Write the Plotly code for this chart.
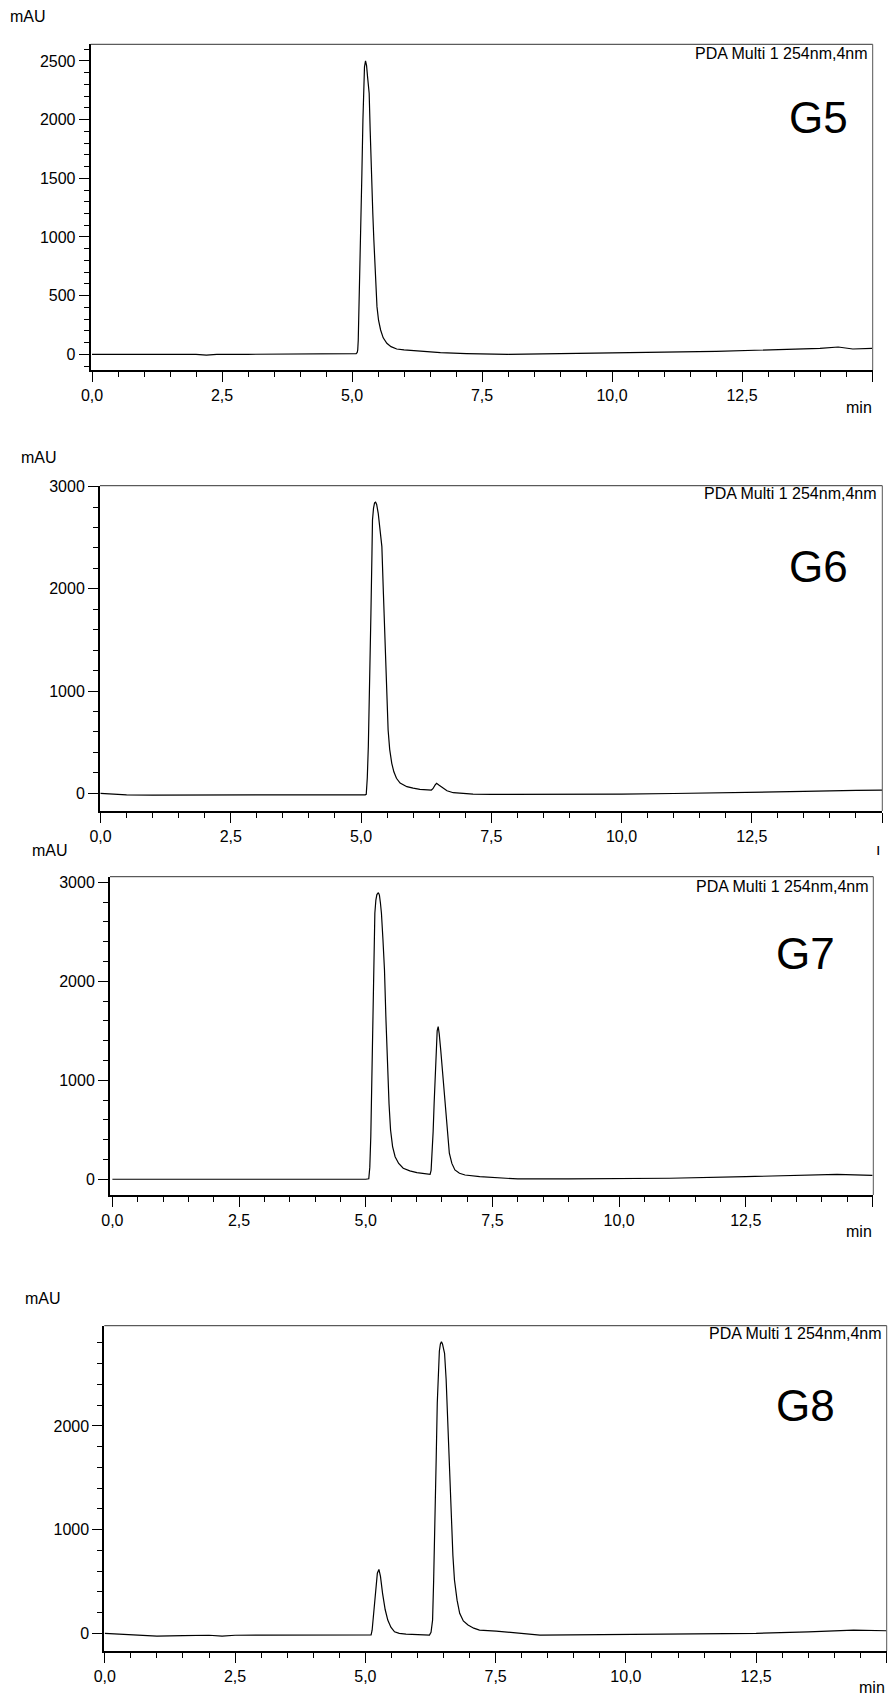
import plotly.graph_objects as go

W, H = 889, 1698

# ---------------- data ----------------
g5_t = [0, 0.5, 1.0, 1.5, 2.0, 2.2, 2.4, 3.0, 4.0, 5.0, 5.08, 5.10, 5.11, 5.12, 5.13, 5.14,
        5.15, 5.17, 5.19, 5.21, 5.22, 5.24, 5.26, 5.28, 5.30, 5.33, 5.35, 5.37, 5.40, 5.42,
        5.45, 5.48, 5.51, 5.55, 5.60, 5.67, 5.75, 5.86, 6.0, 6.5, 6.7, 7.2, 7.5, 8.0, 9.0,
        10.0, 11.0, 12.0, 12.5, 13.0, 13.5, 14.0, 14.35, 14.63, 15.0]
g5_v = [0, 0, 0, 0, 0, -8, 0, 0, 0, 0, 5, 15, 37, 120, 300, 490,
        690, 1110, 1543, 2000, 2253, 2450, 2500, 2460, 2360, 2225, 1900, 1543, 1200, 974,
        660, 406, 290, 207, 140, 94, 65, 45, 37, 20, 14, 6, 2, 0, 5,
        14, 18, 25, 31, 35, 42, 50, 62, 45, 51]

g6_t = [0, 0.2, 0.5, 1.0, 2.0, 2.25, 2.5, 3.0, 4.0, 5.0, 5.08, 5.10, 5.12, 5.14, 5.17,
        5.19, 5.21, 5.22, 5.24, 5.26, 5.28, 5.30, 5.33, 5.36, 5.40, 5.43, 5.46, 5.49,
        5.52, 5.55, 5.59, 5.63, 5.68, 5.75, 5.88, 6.0, 6.13, 6.35, 6.38, 6.42, 6.45,
        6.50, 6.57, 6.65, 6.77, 7.15, 7.5, 8.5, 10.0, 11.0, 12.5, 13.5, 14.5, 15.0]
g6_v = [0, -5, -15, -17, -17, -22, -17, -17, -17, -17, -15, -10, 150, 456, 1100,
        1761, 2350, 2674, 2790, 2840, 2847, 2825, 2739, 2600, 2413, 1950, 1434, 1000,
        619, 430, 293, 210, 147, 100, 65, 50, 39, 32, 45, 80, 98,
        78, 49, 25, 6, -7, -10, -10, -7, -2, 6, 18, 28, 32]

g7_t = [0, 1.0, 2.0, 2.25, 2.5, 3.0, 4.0, 5.0, 5.06, 5.08, 5.10, 5.12, 5.14, 5.16, 5.18,
        5.20, 5.22, 5.25, 5.27, 5.29, 5.31, 5.34, 5.37, 5.40, 5.43, 5.46, 5.49, 5.53,
        5.58, 5.65, 5.74, 5.87, 6.01, 6.15, 6.27, 6.29, 6.30, 6.33, 6.35, 6.37, 6.39,
        6.41, 6.43, 6.45, 6.48, 6.52, 6.56, 6.60, 6.65, 6.70, 6.76, 6.85, 6.96, 7.25,
        7.5, 8.0, 9.0, 10.0, 11.0, 12.5, 13.5, 14.3, 15.0]
g7_v = [0, 0, 0, -5, 0, 0, 0, 0, 5, 120, 431, 1080, 1778, 2300, 2687,
        2820, 2875, 2895, 2870, 2790, 2687, 2420, 2114, 1600, 1104, 760, 498, 330,
        228, 160, 111, 85, 67, 57, 50, 90, 162, 480, 768, 1080, 1374,
        1500, 1542, 1470, 1306, 1040, 768, 500, 263, 160, 94, 60, 43, 26,
        20, 3, 3, 5, 10, 26, 38, 50, 40]

g8_t = [0, 0.5, 1.0, 1.5, 2.0, 2.25, 2.5, 3.0, 4.0, 5.0, 5.11, 5.13, 5.15, 5.17, 5.20,
        5.23, 5.26, 5.29, 5.33, 5.38, 5.43, 5.49, 5.56, 5.65, 5.78, 6.0, 6.23, 6.26,
        6.29, 6.31, 6.34, 6.36, 6.38, 6.40, 6.42, 6.44, 6.46, 6.48, 6.50, 6.52, 6.55,
        6.58, 6.61, 6.65, 6.68, 6.71, 6.76, 6.81, 6.88, 6.97, 7.08, 7.19, 7.51, 8.35,
        10.0, 11.0, 12.5, 13.5, 14.37, 15.0]
g8_v = [0, -16, -26, -22, -18, -26, -18, -16, -16, -16, -14, 30, 150, 289, 450,
        580, 617, 550, 386, 230, 128, 60, 15, 0, -7, -14, -16, 10,
        128, 500, 1093, 1700, 2218, 2550, 2720, 2790, 2812, 2790, 2750, 2700, 2450,
        2057, 1600, 1093, 750, 514, 320, 193, 120, 80, 50, 32, 22, -16,
        -10, -6, 0, 15, 32, 25]

x_tickvals = [0, 2.5, 5.0, 7.5, 10.0, 12.5, 15.0]
x_ticktext = ["0,0", "2,5", "5,0", "7,5", "10,0", "12,5", ""]

panels = [
    dict(name="G5", t=g5_t, v=g5_v),
    dict(name="G6", t=g6_t, v=g6_v),
    dict(name="G7", t=g7_t, v=g7_v),
    dict(name="G8", t=g8_t, v=g8_v),
]

# ---------------- layout geometry (pixels) ----------------
geo = [
    dict(l=90.7, r=872.7, t=44.3, b=370, xr=[-0.025, 15.013], yr=[-134, 2642], ymaj=500, ymin=100,
         mau=(28.5, 17), mn=(859, 408), pda=(870, 53), lab=(818, 117)),
    dict(l=100, r=882.3, t=485.7, b=811, xr=[-0.01, 15.005], yr=[-173, 3009], ymaj=1000, ymin=200,
         mau=(38.5, 458), mn=None, pda=(879.3, 493.3), lab=(818.7, 566.7)),
    dict(l=110, r=873.3, t=876.7, b=1195, xr=[-0.047, 15.017], yr=[-159, 3056], ymaj=1000, ymin=200,
         mau=(49.5, 850), mn=(859, 1231), pda=(871, 886), lab=(805, 953)),
    dict(l=104.3, r=886.7, t=1325.7, b=1651, xr=[-0.01, 15.005], yr=[-170, 2966], ymaj=1000, ymin=200,
         mau=(42.5, 1298), mn=(872, 1687), pda=(884.3, 1333), lab=(805, 1405)),
]

FONT = "Liberation Sans, Arial, sans-serif"


def px(x):
    return x / W


def py(y):
    return 1 - y / H


fig = go.Figure()
annotations = []
shapes = []
layout = dict(
    width=W, height=H, autosize=False,
    margin=dict(l=0, r=0, t=0, b=0, pad=0),
    paper_bgcolor="white", plot_bgcolor="white",
    showlegend=False,
    font=dict(family=FONT, size=16, color="black"),
)

for i, (p, g) in enumerate(zip(panels, geo)):
    k = "" if i == 0 else str(i + 1)
    xa, ya = "x" + k, "y" + k
    fig.add_trace(go.Scatter(x=p["t"], y=p["v"], mode="lines",
                             line=dict(color="black", width=1.2),
                             xaxis=xa, yaxis=ya, hoverinfo="skip"))
    layout["xaxis" + k] = dict(
        domain=[px(g["l"]), px(g["r"])], range=g["xr"], anchor=ya, automargin=False,
        showgrid=False, zeroline=False, showline=True, linewidth=2, linecolor="black",
        ticks="outside", ticklen=10, tickwidth=1, tickcolor="black",
        tickmode="array", tickvals=x_tickvals, ticktext=x_ticktext,
        tickfont=dict(size=16, family=FONT, color="black"),
        minor=dict(ticks="outside", ticklen=5, tickwidth=1, tickcolor="black",
                   tickmode="linear", tick0=0, dtick=0.5, showgrid=False),
    )
    layout["yaxis" + k] = dict(
        domain=[py(g["b"]), py(g["t"])], range=g["yr"], anchor=xa, automargin=False,
        showgrid=False, zeroline=False, showline=True, linewidth=2, linecolor="black",
        ticks="outside", ticklen=10, tickwidth=1, tickcolor="black",
        tickmode="linear", tick0=0, dtick=g["ymaj"], tickformat="d",
        tickfont=dict(size=16, family=FONT, color="black"),
        minor=dict(ticks="outside", ticklen=5, tickwidth=1, tickcolor="black",
                   tickmode="linear", tick0=0, dtick=g["ymin"], showgrid=False),
    )
    shapes.append(dict(type="line", xref=xa + " domain", yref=ya + " domain",
                       x0=0, x1=1, y0=1, y1=1, line=dict(color="#333333", width=1)))
    shapes.append(dict(type="line", xref=xa + " domain", yref=ya + " domain",
                       x0=1, x1=1, y0=0, y1=1, line=dict(color="#555555", width=1)))

    annotations.append(dict(text="mAU", x=px(g["mau"][0]), y=py(g["mau"][1]),
                            xref="paper", yref="paper", showarrow=False,
                            xanchor="center", yanchor="middle",
                            font=dict(size=16, family=FONT, color="black")))
    if g["mn"] is not None:
        annotations.append(dict(text="min", x=px(g["mn"][0]), y=py(g["mn"][1]),
                                xref="paper", yref="paper", showarrow=False,
                                xanchor="center", yanchor="middle",
                                font=dict(size=16, family=FONT, color="black")))
    annotations.append(dict(text="PDA Multi 1 254nm,4nm", x=px(g["pda"][0]), y=py(g["pda"][1]),
                            xref="paper", yref="paper", showarrow=False,
                            xanchor="right", yanchor="middle",
                            font=dict(size=16, family=FONT, color="black")))
    annotations.append(dict(text=p["name"], x=px(g["lab"][0]), y=py(g["lab"][1]),
                            xref="paper", yref="paper", showarrow=False,
                            xanchor="center", yanchor="middle",
                            font=dict(size=44, family=FONT, color="black")))

# fragment of the cut-off "min" label of the G6 panel
annotations.append(dict(text="ı", x=px(878), y=py(849), xref="paper", yref="paper",
                        showarrow=False, xanchor="center", yanchor="middle",
                        font=dict(size=16, family=FONT, color="black")))

layout["annotations"] = annotations
layout["shapes"] = shapes
fig.update_layout(**layout)
fig.write_html(
    "out.html",
    config={"displayModeBar": False},
    post_script="document.body.style.margin='0';document.body.style.padding='0';"
                "document.documentElement.style.overflow='hidden';",
)
